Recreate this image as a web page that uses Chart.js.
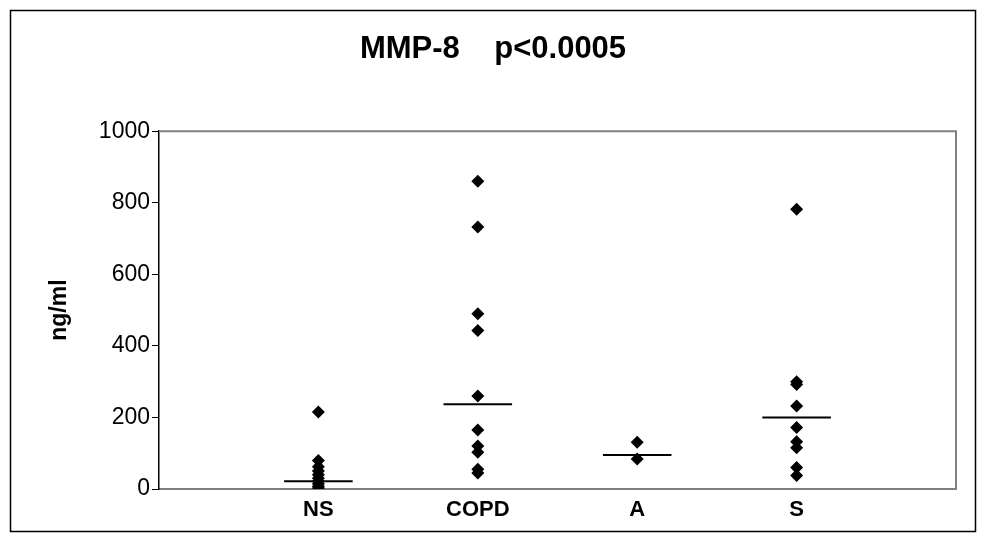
<!DOCTYPE html>
<html>
<head>
<meta charset="utf-8">
<script src="https://cdn.jsdelivr.net/npm/chart.js@4/dist/chart.umd.min.js"></script>
<style>
  html, body { margin: 0; padding: 0; background: #fff; }
  #wrap { position: relative; width: 986px; height: 541px; }
</style>
</head>
<body>
<div id="wrap"><canvas id="chart"></canvas></div>
<script>
// Group labels, placed at x = 1..4 on a 0..5 axis (Excel-style dot plot)
const categories = ["NS", "COPD", "A", "S"];
const categoryX = [1, 2, 3, 4];

// Individual values, ng/ml
const nsValues = [215, 80, 62, 50, 40, 30, 22, 15, 8, 3];
const copdValues = [860, 732, 490, 443, 260, 165, 120, 103, 55, 45];
const aValues = [131, 84];
const sValues = [782, 300, 292, 232, 172, 132, 115, 60, 38];

// Median bars
const medians = [22, 237, 95, 200];
const medianHalfWidth = 0.215;

const yTicks = [0, 200, 400, 600, 800, 1000];

const FONT = "'Liberation Sans', Arial, sans-serif";

const groups = [nsValues, copdValues, aValues, sValues];
const pointData = [];
groups.forEach((vals, i) => {
  vals.forEach((v) => pointData.push({ x: categoryX[i], y: v }));
});

const medianSets = medians.map((m, i) => ({
  type: "line",
  data: [
    { x: categoryX[i] - medianHalfWidth, y: m },
    { x: categoryX[i] + medianHalfWidth, y: m },
  ],
  borderColor: "#000",
  borderWidth: 2,
  pointRadius: 0,
  fill: false,
}));

// outer frame + gray top/right border of the plot area
const framePlugin = {
  id: "frame",
  beforeDraw(chart) {
    const ctx = chart.ctx;
    ctx.save();
    ctx.fillStyle = "#fff";
    ctx.fillRect(0, 0, chart.width, chart.height);
    ctx.strokeStyle = "#000";
    ctx.lineWidth = 1.5;
    ctx.strokeRect(10.5, 10.5, 965, 521);
    ctx.restore();
  },
  beforeDatasetsDraw(chart) {
    const { left, right, top, bottom } = chart.chartArea;
    const ctx = chart.ctx;
    ctx.save();
    ctx.strokeStyle = "#808080";
    ctx.lineWidth = 2;
    ctx.beginPath();
    ctx.moveTo(left, top);
    ctx.lineTo(right, top);
    ctx.lineTo(right, bottom);
    ctx.stroke();
    ctx.restore();
  },
};

new Chart(document.getElementById("chart"), {
  type: "scatter",
  data: {
    datasets: [
      {
        data: pointData,
        pointStyle: "rectRot",
        pointRadius: 6.5,
        pointHoverRadius: 6.5,
        backgroundColor: "#000",
        borderColor: "#000",
        borderWidth: 0,
      },
      ...medianSets,
    ],
  },
  options: {
    responsive: true,
    maintainAspectRatio: false,
    animation: false,
    // equal side padding keeps the title centred on the frame
    layout: { padding: { left: 30, right: 30, top: 0, bottom: 0 } },
    plugins: {
      legend: { display: false },
      tooltip: { enabled: false },
      title: {
        display: true,
        text: "MMP-8    p<0.0005",
        color: "#000",
        font: { family: FONT, size: 31, weight: "bold" },
        padding: { top: 31, bottom: 63 },
      },
    },
    scales: {
      x: {
        type: "linear",
        min: 0,
        max: 5,
        afterBuildTicks: (s) => {
          s.ticks = categoryX.map((v) => ({ value: v }));
        },
        afterFit: (s) => {
          s.height = 52;
        },
        ticks: {
          callback: (v) => categories[categoryX.indexOf(v)] || "",
          color: "#000",
          font: { family: FONT, size: 22, weight: "bold" },
          padding: 8,
          maxRotation: 0,
          autoSkip: false,
        },
        grid: { display: false, drawTicks: false },
        border: { display: true, color: "#808080", width: 2 },
      },
      y: {
        min: 0,
        max: 1000,
        afterBuildTicks: (s) => {
          s.ticks = yTicks.map((v) => ({ value: v }));
        },
        afterFit: (s) => {
          s.width = 129;
        },
        ticks: {
          callback: (v) => String(v),
          color: "#000",
          font: { family: FONT, size: 23 },
          padding: 2,
        },
        grid: {
          drawOnChartArea: false,
          drawTicks: true,
          tickLength: 7,
          color: "#000",
        },
        border: { display: true, color: "#000", width: 1.5 },
        title: {
          display: true,
          text: "ng/ml",
          color: "#000",
          font: { family: FONT, size: 23, weight: "bold" },
          padding: { top: 16, bottom: 0 },
        },
      },
    },
  },
  plugins: [framePlugin],
});
</script>
</body>
</html>
